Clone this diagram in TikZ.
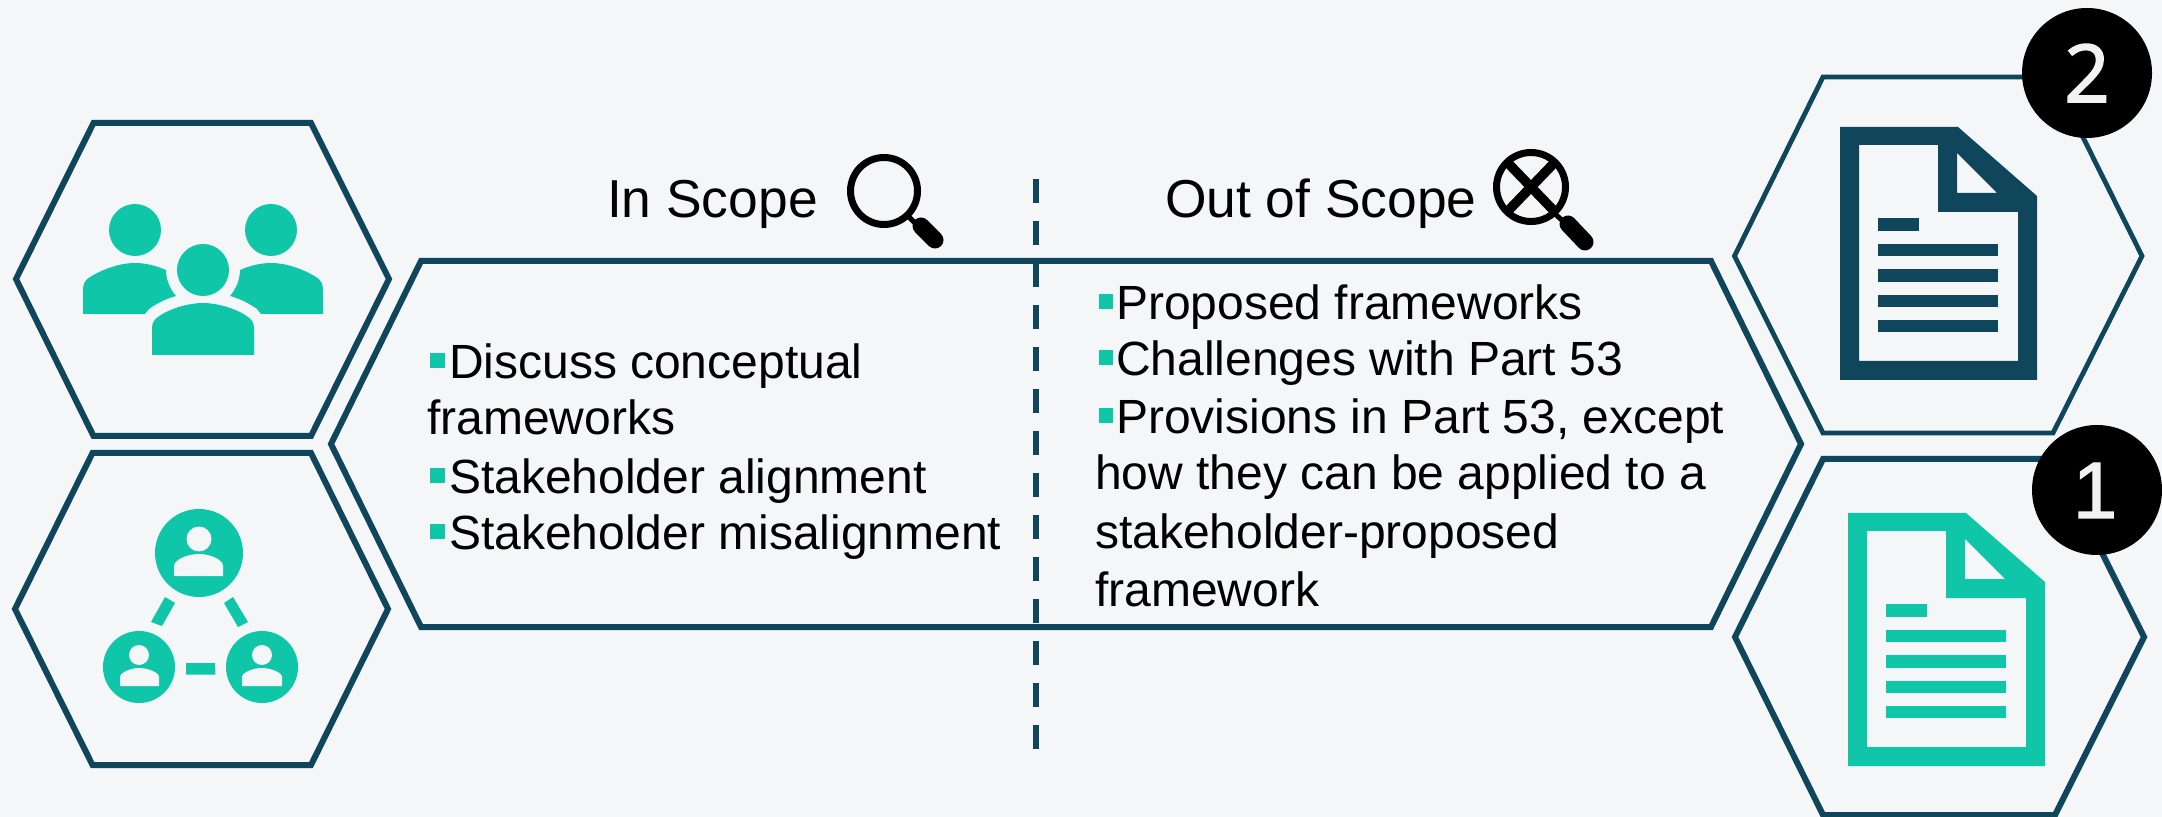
\documentclass[tikz,border=0pt]{standalone}
\usepackage{fontspec}
\setmainfont{Liberation Sans}
\newfontfamily\digitfont[FakeBold=2]{Open Sans}
\newfontfamily\onefont[FakeBold=1.5]{Liberation Sans}
\definecolor{pagebg}{HTML}{F5F6F8}
\definecolor{navy}{HTML}{0F465C}
\definecolor{teal}{HTML}{10C6A9}
\tikzset{
  hexline/.style={draw=navy,line width=3pt},
  hexthin/.style={draw=navy,line width=2.4pt},
  lbl/.style={anchor=base west,inner sep=0pt,outer sep=0pt,text=black,font=\fontsize{24}{28}\selectfont},
  head/.style={anchor=base west,inner sep=0pt,outer sep=0pt,text=black,font=\fontsize{26.7}{30}\selectfont},
  bulletbox/.style={fill=teal},
  numdisc/.style={fill=black},
  numtxt/.style={anchor=base,inner sep=0pt,text=white!95!black,font=\fontsize{40}{44}\selectfont},
  divider/.style={draw=navy,line width=3pt,dash pattern=on 12pt off 9pt},
  lensring/.style={draw=black,line width=3.5pt},
  lenshandle/.style={draw=black,line width=8.5pt,line cap=round},
  lensneck/.style={draw=black,line width=2.5pt},
}
\newcommand{\DocShape}[3]{%
  \begin{scope}[shift={(#2,#3)}]
    \fill[#1,even odd rule]
      (1840,127) -- (1958,127) -- (2037,196) -- (2037,380) -- (1840,380) -- cycle
      (1859,145) -- (1938,145) -- (1938,212) -- (2018,212) -- (2018,361) -- (1859,361) -- cycle
      (1957,153) -- (1997,193) -- (1957,193) -- cycle;
    \fill[#1] (1878,218) rectangle (1919,231);
    \fill[#1] (1878,244) rectangle (1998,256);
    \fill[#1] (1878,269) rectangle (1998,282);
    \fill[#1] (1878,295) rectangle (1998,307);
    \fill[#1] (1878,320) rectangle (1998,332);
  \end{scope}}
\begin{document}
\begin{tikzpicture}[x=0.5pt,y=-0.5pt]
\useasboundingbox (0,0) rectangle (2162,817);
\fill[pagebg] (0,0) rectangle (2162,817);

% hexagons
\draw[hexline] (16,279) -- (93.5,123) -- (311,123) -- (389,279) -- (311,436) -- (93.5,436) -- cycle;
\draw[hexline] (15,609) -- (92.5,453) -- (311,453) -- (388,609) -- (311,765) -- (92.5,765) -- cycle;
\draw[hexline] (331,444) -- (421,261) -- (1711,261) -- (1801,444) -- (1711,627) -- (421,627) -- cycle;
\draw[hexthin] (1734.5,256) -- (1823,77) -- (2053,77) -- (2142,256) -- (2053,433) -- (1823,433) -- cycle;
\draw[hexline] (1735,637) -- (1823,459) -- (2055,459) -- (2144,637) -- (2055,815) -- (1823,815) -- cycle;

% divider
\coordinate (divtop) at (1036,179);
\coordinate (divbot) at (1036,750);
\draw[divider] (divtop) -- (divbot);

% people icon
\fill[teal] (135,230) circle[radius=26];
\fill[teal] (271,230) circle[radius=26];
\fill[teal] (203,270) circle[radius=26];
\fill[teal] (152,355) -- (152,328) .. controls (152,322) and (155,319) .. (158,317)
  .. controls (170,308) and (190,303) .. (203,303) .. controls (216,303) and (236,308) .. (248,317)
  .. controls (251,319) and (254,322) .. (254,328) -- (254,355) -- cycle;
\fill[teal] (83,314) -- (83,290) .. controls (83,284) and (85,280) .. (90,277)
  .. controls (103,269) and (120,263) .. (135,263) .. controls (146,263) and (157,266) .. (166,270)
  .. controls (166,280) and (170,289) .. (176,296) .. controls (165,299) and (156,304) .. (149,309)
  -- (145,314) -- cycle;
\fill[teal] (323,314) -- (323,290) .. controls (323,284) and (321,280) .. (316,277)
  .. controls (303,269) and (286,263) .. (271,263) .. controls (260,263) and (249,266) .. (240,270)
  .. controls (240,280) and (236,289) .. (230,296) .. controls (241,299) and (250,304) .. (257,309)
  -- (261,314) -- cycle;

% network icon
\fill[teal] (199,553) circle[radius=44];
\fill[teal] (139,667) circle[radius=36];
\fill[teal] (262,667) circle[radius=36];
\fill[pagebg] (199,539) circle[radius=12.5];
\fill[pagebg] (174,576) -- (174,566) .. controls (174,560) and (187,554) .. (199,554)
  .. controls (211,554) and (223,560) .. (223,566) -- (223,576) -- cycle;
\fill[pagebg] (139,655) circle[radius=10];
\fill[pagebg] (120,686) -- (120,677) .. controls (120,673) and (130,668) .. (139,668)
  .. controls (149,668) and (159,673) .. (159,677) -- (159,686) -- cycle;
\fill[pagebg] (262,655) circle[radius=10];
\fill[pagebg] (242,686) -- (242,677) .. controls (242,673) and (252,668) .. (262,668)
  .. controls (272,668) and (282,673) .. (282,677) -- (282,686) -- cycle;
\fill[teal] (186,663) -- (215,663) -- (215.5,674.5) -- (186,674.5) -- cycle;
\fill[teal] (165,597) -- (175,603) -- (162,626) -- (151,622) -- cycle;
\fill[teal] (233,597) -- (224,603) -- (238,627) -- (248,622) -- cycle;

% documents
\DocShape{navy}{0}{0}
\DocShape{teal}{8}{386}

% number discs
\fill[numdisc] (2087,73) circle[radius=65];
\node[numtxt] (num2) at (2087,102) {\digitfont 2};
\fill[numdisc] (2097,490) circle[radius=65];
\node[numtxt] (num1) at (2095,518) {\onefont 1};

% magnifier in scope
\draw[lensring] (884,191) circle[radius=33.5];
\draw[lensneck] (907,215) -- (920,228);
\draw[lenshandle] (921,226) -- (935,240);

% magnifier out of scope
\draw[lensring] (1531,187) circle[radius=34.5];
\draw[black,line width=4.8pt] (1506,161) -- (1556,213);
\draw[black,line width=4.8pt] (1556,161) -- (1506,213);
\draw[lensneck] (1553,212) -- (1566,224);
\draw[lenshandle] (1568,224) -- (1585,242);

% headings
\node[head] (inscope) at (607,218) {In Scope};
\node[head] (outscope) at (1165,218) {Out of Scope};

% left list
\fill[bulletbox] (430,353) rectangle (445,368);
\node[lbl] (l1) at (449,379) {Discuss conceptual};
\node[lbl] (l2) at (427,435) {frameworks};
\fill[bulletbox] (430,468) rectangle (445,483);
\node[lbl] (l3) at (449,494) {Stakeholder alignment};
\fill[bulletbox] (430,524) rectangle (445,539);
\node[lbl] (l4) at (449,550) {Stakeholder misalignment};

% right list
\fill[bulletbox] (1098.5,294) rectangle (1113,309);
\node[lbl] (r1) at (1116,319.5) {Proposed frameworks};
\fill[bulletbox] (1098.5,350) rectangle (1113,365);
\node[lbl] (r2) at (1116,375.5) {Challenges with Part 53};
\fill[bulletbox] (1098.5,408) rectangle (1113,423);
\node[lbl] (r3) at (1116,433.5) {Provisions in Part 53, except};
\node[lbl] (r4) at (1095,490) {how they can be applied to a};
\node[lbl] (r5) at (1095,548) {stakeholder-proposed};
\node[lbl] (r6) at (1095,606.5) {framework};
\end{tikzpicture}
\end{document}
